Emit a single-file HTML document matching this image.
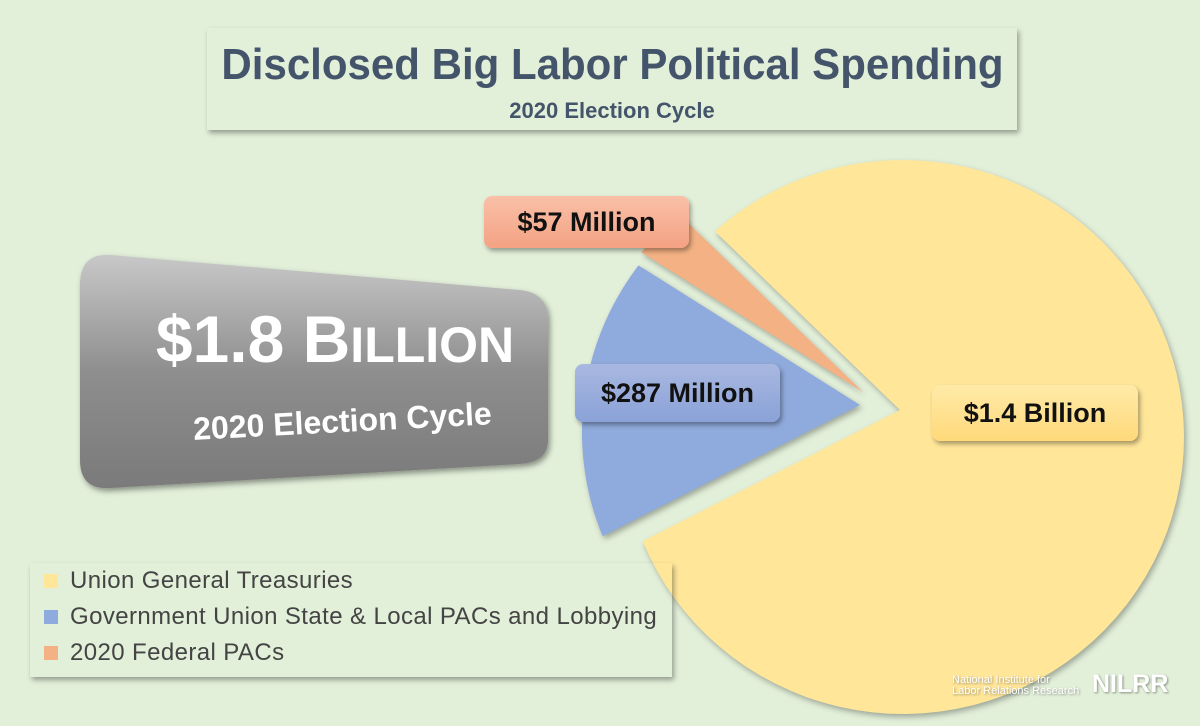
<!DOCTYPE html>
<html><head><meta charset="utf-8"><style>
body{margin:0;width:1200px;height:726px;background:#e2efd9;position:relative;overflow:hidden;font-family:"Liberation Sans","DejaVu Sans",sans-serif}
.abs{position:absolute}
#title{left:207px;top:28px;width:810px;height:102px;background:#e2efd9;box-shadow:2px 3px 5px rgba(0,0,0,.35);text-align:center;color:#44546a;font-weight:bold}
#legend{left:30px;top:563px;width:642px;height:114px;box-shadow:2px 3px 5px rgba(0,0,0,.35);font-size:24px;letter-spacing:0.4px;color:#444}
.li{position:absolute;left:14px;display:flex;align-items:center;white-space:nowrap}
.sw{width:14px;height:14px;margin-right:12px}
.lab{position:absolute;font-weight:bold;font-size:27px;color:#111;border-radius:8px;box-shadow:2px 3px 5px rgba(0,0,0,.35);display:flex;align-items:center;justify-content:center}
</style></head><body>
<div id="title" class="abs">
<div style="display:flex;justify-content:center;margin-top:12px;height:54px"><div style="font-size:44px;white-space:nowrap;transform:scaleX(0.955);flex:none">Disclosed Big Labor Political Spending</div></div>
<div style="font-size:22px;margin-top:4px">2020 Election Cycle</div>
</div>
<svg class="abs" style="left:0;top:0" width="1200" height="726">
<defs><linearGradient id="g" x1="0" y1="0" x2="0" y2="1"><stop offset="0" stop-color="#c8c8c8"/><stop offset="0.5" stop-color="#8e8e8e"/><stop offset="1" stop-color="#7a7a7a"/></linearGradient>
<filter id="sh"><feDropShadow dx="2" dy="3" stdDeviation="3" flood-opacity="0.4"/></filter></defs>
<path d="M110,255 L520,290 Q548,293 548,320 L548,440 Q548,462 520,464 L110,488 Q80,490 80,460 L80,285 Q80,253 110,255 Z" fill="url(#g)" filter="url(#sh)"/>
<text x="335" y="362" text-anchor="middle" fill="#fff" font-weight="bold" font-size="66">$1.8 B<tspan font-size="50">ILLION</tspan></text>
<text x="343" y="432" text-anchor="middle" fill="#fff" font-weight="bold" font-size="32" transform="rotate(-3 343 432)">2020 Election Cycle</text>
</svg>
<svg id="pie" class="abs" style="left:0;top:0" width="1200" height="726"></svg>
<div class="lab" style="left:484px;top:196px;width:205px;height:52px;background:linear-gradient(#f9c0a8,#f4a283)">$57 Million</div>
<div class="lab" style="left:575px;top:364px;width:205px;height:58px;background:linear-gradient(#a9b8e0,#8aa2d8)">$287 Million</div>
<div class="lab" style="left:932px;top:385px;width:206px;height:56px;background:linear-gradient(#ffeaa8,#ffd97a)">$1.4 Billion</div>
<div id="legend" class="abs">
<div class="li" style="top:4px"><div class="sw" style="background:#ffe699"></div>Union General Treasuries</div>
<div class="li" style="top:40px"><div class="sw" style="background:#8faadc"></div>Government Union State &amp; Local PACs and Lobbying</div>
<div class="li" style="top:76px"><div class="sw" style="background:#f4b183"></div>2020 Federal PACs</div>
</div>
<div class="abs" style="left:952px;top:675px;color:#fff;font-size:11px;line-height:11px;text-shadow:1px 1px 2px rgba(0,0,0,.4)">National Institute for<br>Labor Relations Research</div>
<div class="abs" style="left:1092px;top:670px;color:#fff;font-size:25px;font-weight:bold;text-shadow:1px 1px 2px rgba(0,0,0,.4)">NILRR</div>
<script>
const categories=["Union General Treasuries","Government Union State & Local PACs and Lobbying","2020 Federal PACs"];
const values=[1400,287,57];
const colors=["#ffe699","#8faadc","#f4b183"];
const apexes=[[900,410],[860,405],[863,392]];
const startAngle=-136;
const svg=document.getElementById('pie');
const NS='http://www.w3.org/2000/svg';
const total=values.reduce((a,b)=>a+b,0);
const CX=903,CY=437,RX=281,RY=277;
function pt(c,deg){
 const a=deg*Math.PI/180;const dx=Math.cos(a),dy=Math.sin(a);
 const ex=CX+(c[0]-apexes[0][0]),ey=CY+(c[1]-apexes[0][1]);
 const ox=(c[0]-ex)/RX,oy=(c[1]-ey)/RY,ux=dx/RX,uy=dy/RY;
 const A=ux*ux+uy*uy,B=2*(ox*ux+oy*uy),C=ox*ox+oy*oy-1;
 const t=(-B+Math.sqrt(B*B-4*A*C))/(2*A);
 return [c[0]+t*dx,c[1]+t*dy];
}
let a0=startAngle;
values.forEach((v,i)=>{
 const sweep=v/total*360;const c=apexes[i];
 let d='M'+c[0]+','+c[1];
 for(let k=0;k<=90;k++){const p=pt(c,a0+sweep*k/90);d+=' L'+p[0].toFixed(1)+','+p[1].toFixed(1);}
 d+=' Z';
 const p=document.createElementNS(NS,'path');
 p.setAttribute('d',d);p.setAttribute('fill',colors[i]);
 p.setAttribute('style','filter:drop-shadow(2px 3px 3px rgba(0,0,0,.3))');
 
 
 svg.appendChild(p);
 a0+=sweep;
});
</script>
</body></html>
